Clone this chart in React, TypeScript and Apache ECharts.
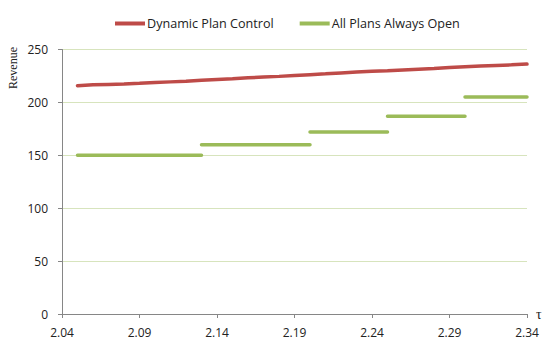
import React, { useEffect, useRef } from "react";
import * as echarts from "echarts";

const tauTicks = [2.04, 2.09, 2.14, 2.19, 2.24, 2.29, 2.34];
const dynamicTau = [2.05, 2.06, 2.07, 2.08, 2.09, 2.1, 2.11, 2.12, 2.13, 2.14, 2.15, 2.16, 2.17, 2.18, 2.19, 2.2, 2.21, 2.22, 2.23, 2.24, 2.25, 2.26, 2.27, 2.28, 2.29, 2.3, 2.31, 2.32, 2.33, 2.34];
const dynamicRevenue = [215.8, 216.6, 217, 217.4, 218, 218.8, 219.4, 220, 220.9, 221.7, 222.4, 223.2, 223.9, 224.6, 225.4, 226.2, 227, 227.9, 228.7, 229.4, 230, 230.7, 231.4, 232.1, 232.9, 233.6, 234.3, 234.9, 235.5, 236.2];
const openBreaks = [2.05, 2.13, 2.2, 2.25, 2.3, 2.34];
const openLevels = [150, 160, 172, 187, 205];

export default function App() {
  const ref = useRef<HTMLDivElement>(null);
  useEffect(() => {
    document.body.style.margin = "0";
    const chart = echarts.init(ref.current!, null, { renderer: "svg" });
    const openData: any[] = [];
    openLevels.forEach((lvl, i) => {
      openData.push([openBreaks[i], lvl]);
      openData.push([openBreaks[i + 1], lvl]);
      openData.push([openBreaks[i + 1], "-"]);
    });
    const font = "'Open Sans', 'Noto Sans', sans-serif";
    chart.setOption({
      animation: false,
      grid: { left: 62, right: 23, top: 49.5, bottom: 32, containLabel: false },
      legend: {
        top: 12,
        left: 110,
        itemWidth: 30,
        itemHeight: 4,
        itemGap: 26,
        icon: "rect",
        textStyle: { fontFamily: font, fontSize: 12.6, color: "#222", padding: [0, 0, 0, -3] },
        data: ["Dynamic Plan Control", "All Plans Always Open"],
      },
      xAxis: {
        type: "value",
        min: 2.04,
        max: 2.34,
        name: "τ",
        nameLocation: "end",
        nameGap: 9,
        nameTextStyle: { fontFamily: "'Liberation Serif', serif", fontSize: 14, color: "#222", verticalAlign: "middle" },
        axisLine: { show: true, onZero: false, lineStyle: { color: "#868686", width: 1 } },
        axisTick: { show: true, customValues: tauTicks, length: 4, lineStyle: { color: "#868686" } },
        axisLabel: {
          customValues: tauTicks,
          formatter: (v: number) => v.toFixed(2),
          fontFamily: font,
          fontSize: 12,
          color: "#222",
          margin: 12,
        },
        splitLine: { show: false },
      },
      yAxis: {
        type: "value",
        min: 0,
        max: 250,
        interval: 50,
        axisLine: { show: true, lineStyle: { color: "#868686", width: 1 } },
        axisTick: { show: true, length: 4, lineStyle: { color: "#868686" } },
        axisLabel: { fontFamily: font, fontSize: 12, color: "#222", margin: 14 },
        splitLine: { show: true, lineStyle: { color: "#d7e4bd", width: 1 } },
      },
      graphic: [
        {
          type: "text",
          x: 13,
          y: 68,
          rotation: Math.PI / 2,
          style: {
            text: "Revenue",
            font: "12px 'Liberation Serif', serif",
            fill: "#222",
            align: "center",
            verticalAlign: "middle",
          },
        },
      ],
      series: [
        {
          name: "Dynamic Plan Control",
          type: "line",
          showSymbol: false,
          symbol: "none",
          data: dynamicTau.map((t, i) => [t, dynamicRevenue[i]]),
          lineStyle: { color: "#be4b48", width: 3.5, cap: "round" },
          itemStyle: { color: "#be4b48" },
        },
        {
          name: "All Plans Always Open",
          type: "line",
          showSymbol: false,
          symbol: "none",
          connectNulls: false,
          data: openData,
          lineStyle: { color: "#9bbb59", width: 3.5, cap: "round" },
          itemStyle: { color: "#9bbb59" },
        },
      ],
    });
    return () => chart.dispose();
  }, []);
  return <div ref={ref} style={{ width: 550, height: 346 }} />;
}
